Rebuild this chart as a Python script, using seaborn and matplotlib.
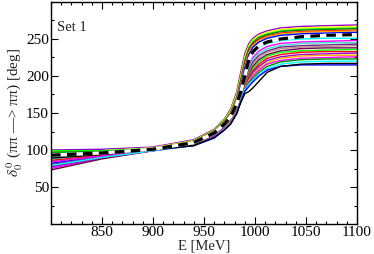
import numpy as np
import pandas as pd
import matplotlib
matplotlib.use("Agg")
import matplotlib.pyplot as plt
from matplotlib.ticker import MultipleLocator, FixedLocator
import seaborn as sns

# Energy grid [MeV]
energy = [800, 850, 900, 940, 960, 970, 976, 982, 986, 990, 994, 998, 1004, 1012, 1025, 1045, 1070, 1100]

# Phase shift curves [deg]
U1 = [100, 101, 104, 114, 128, 142, 155, 178, 205, 230, 244, 251, 257, 261, 265, 267, 268, 269]
U2 = [98, 99, 103, 113, 127, 141, 153, 175, 200, 226, 241, 249, 255, 259, 263, 265, 266, 267]
U3 = [85, 93, 101, 112, 126, 140, 151, 172, 196, 222, 239, 247, 253, 257, 261, 263, 264, 265]
U4 = [91, 96, 102, 112, 126, 139, 150, 170, 194, 220, 237, 245, 252, 256, 260, 262, 263, 264]
U5 = [78, 90, 100, 111, 125, 138, 149, 168, 191, 217, 234, 243, 250, 254, 258, 260, 261, 262]
U6 = [95, 97, 101, 111, 125, 138, 148, 167, 188, 214, 232, 241, 248, 253, 257, 259, 260, 261]
U7 = [82, 92, 100, 110, 124, 137, 147, 165, 186, 211, 229, 239, 246, 251, 255, 257, 258, 259]
M1 = [88, 94, 100, 110, 123, 135, 145, 162, 179, 200, 219, 230, 239, 244, 248, 250, 251, 251]
M2 = [75, 89, 99, 109, 122, 134, 144, 160, 177, 197, 214, 225, 234, 240, 244, 246, 247, 248]
M3 = [96, 97, 101, 109, 122, 133, 143, 159, 176, 195, 211, 222, 231, 237, 241, 244, 245, 245]
M4 = [80, 91, 100, 109, 121, 133, 142, 158, 175, 193, 208, 219, 228, 234, 239, 241, 242, 243]
M5 = [91, 95, 100, 108, 121, 132, 141, 157, 174, 191, 205, 216, 225, 232, 237, 239, 240, 241]
M6 = [73, 88, 99, 108, 120, 131, 140, 156, 173, 189, 202, 213, 222, 229, 234, 237, 238, 238]
M7 = [99, 99, 102, 108, 120, 131, 140, 155, 172, 188, 200, 210, 219, 227, 232, 234, 235, 236]
L1 = [86, 93, 100, 107, 119, 130, 139, 154, 171, 186, 198, 207, 216, 224, 229, 232, 233, 233]
L2 = [77, 90, 99, 107, 119, 130, 138, 153, 170, 185, 196, 205, 213, 221, 226, 229, 230, 231]
L3 = [94, 96, 100, 107, 118, 129, 138, 152, 169, 184, 194, 202, 210, 218, 224, 227, 228, 228]
L4 = [84, 92, 99, 106, 118, 129, 137, 151, 168, 183, 192, 200, 208, 216, 221, 224, 225, 226]
L5 = [97, 98, 101, 106, 117, 128, 136, 150, 167, 182, 190, 197, 205, 213, 219, 222, 223, 223]
L6 = [79, 90, 99, 106, 117, 128, 136, 150, 166, 181, 189, 194, 202, 210, 216, 219, 220, 220]
L8 = [92, 95, 100, 106, 116, 127, 135, 149, 165, 179, 186, 192, 200, 208, 213, 215, 215, 215]
L7 = [89, 94, 100, 106, 117, 127, 135, 149, 164, 176, 179, 184, 193, 205, 213, 216, 217, 217]
central = [93, 96, 101, 110, 123, 135, 145, 162, 178, 200, 222, 233, 241, 246, 250, 253, 255, 256]

curves = {"U1": U1, "U2": U2, "U3": U3, "U4": U4, "U5": U5, "U6": U6, "U7": U7,
          "M1": M1, "M2": M2, "M3": M3, "M4": M4, "M5": M5, "M6": M6, "M7": M7,
          "L1": L1, "L2": L2, "L3": L3, "L4": L4, "L5": L5, "L6": L6, "L8": L8, "L7": L7}
curve_colors = {"U1": "#9400d3", "U2": "#ffff00", "U3": "#00ff00", "U4": "#008b00",
                "U5": "#ff0000", "U6": "#ffa500", "U7": "#0000ff",
                "M1": "#00ffff", "M2": "#ff00ff", "M3": "#40e0d0", "M4": "#722188",
                "M5": "#bc8f8f", "M6": "#670748", "M7": "#00ff00",
                "L1": "#ff0000", "L2": "#9400d3", "L3": "#ffa500", "L4": "#ff00ff",
                "L5": "#008b00", "L6": "#00ffff", "L8": "#0000ff", "L7": "#000000"}

x_ticks = [850, 900, 950, 1000, 1050, 1100]
y_ticks = [50, 100, 150, 200, 250]

rows = []
for name, vals in curves.items():
    for e, v in zip(energy, vals):
        rows.append({"curve": name, "E": e, "delta": v})
df = pd.DataFrame(rows)
dfc = pd.DataFrame({"E": energy, "delta": central})

sns.set_style("ticks")
plt.rcParams["font.family"] = ["Liberation Serif", "DejaVu Serif"]
plt.rcParams["mathtext.fontset"] = "stix"

fig = plt.figure(figsize=(3.74, 2.54), dpi=100)
ax = fig.add_axes([51 / 374, 1 - 224 / 254, 306 / 374, 222 / 254])

sns.lineplot(data=df, x="E", y="delta", hue="curve", palette=curve_colors,
             estimator=None, sort=False, legend=False, linewidth=1.0, ax=ax)
sns.lineplot(data=dfc, x="E", y="delta", color="white", linewidth=2.3,
             estimator=None, legend=False, ax=ax)
sns.lineplot(data=dfc, x="E", y="delta", color="black", linewidth=2.3,
             estimator=None, legend=False, ax=ax, dashes=False)
ax.lines[-1].set_dashes([3.0, 2.0])

ax.set_xlim(800, 1100)
ax.set_ylim(0, 300)
ax.xaxis.set_major_locator(FixedLocator(x_ticks))
ax.xaxis.set_minor_locator(MultipleLocator(10))
ax.yaxis.set_major_locator(FixedLocator(y_ticks))
ax.yaxis.set_minor_locator(MultipleLocator(25))
ax.tick_params(which="both", direction="in", top=True, right=True,
               labelsize=11, colors="black", width=0.8)
ax.tick_params(which="major", length=5, pad=1.5)
ax.tick_params(which="minor", length=2.5)
for s in ax.spines.values():
    s.set_linewidth(1.0)
    s.set_color("black")

ax.set_xlabel("E [MeV]", fontsize=10.5)
ax.xaxis.set_label_coords(0.5, -0.128, transform=ax.transAxes)
ax.xaxis.label.set_va("bottom")
ax.set_ylabel("$\\delta_0^{\\,0}$ (ππ —> ππ) [deg]", fontsize=11, labelpad=1)
ax.text(0.02, 0.885, "Set 1", transform=ax.transAxes, fontsize=10.5, ha="left", va="center")

fig.savefig("out.png", dpi=100)
